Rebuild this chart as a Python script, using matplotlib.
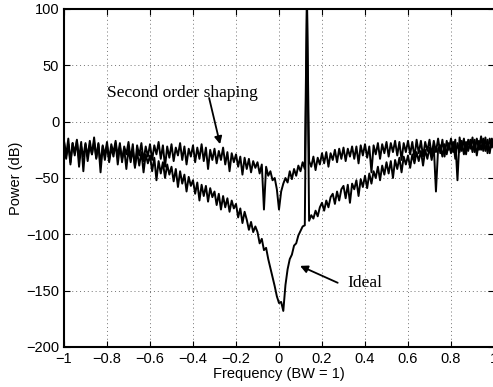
import matplotlib.pyplot as plt
import numpy as np

plt.rcParams['font.family'] = ['Liberation Sans', 'DejaVu Sans']

# power spectra, one value per 0.01 in frequency (-1 .. 1)
ideal_db = [
    -18, -33, -20, -38, -19,  -30, -17, -40, -22, -31,
    -19, -35, -21, -29, -18,  -33, -20, -45, -22, -34,
    -21, -36, -23, -31, -19,  -38, -22, -33, -24, -42,
    -24, -36, -25, -40, -27,  -39, -27, -45, -29, -37,
    -30, -44, -32, -52, -35,  -46, -36, -50, -38, -47,
    -40, -53, -42, -58, -44,  -55, -47, -62, -49, -57,
    -52, -64, -54, -70, -56,  -66, -57, -71, -59, -67,
    -62, -74, -64, -78, -66,  -76, -68, -80, -70, -77,
    -73, -85, -77, -90, -80,  -87, -96, -89, -98, -93,
    -98, -108, -104, -114, -112,  -122, -130, -138, -146, -155,
    -161, -160, -168, -145, -131,  -122, -118, -110, -108, -101,
    -97, -93, -92, 110, -88,  -83, -86, -79, -84, -76,
    -72, -79, -70, -76, -67,  -64, -73, -62, -70, -60,
    -57, -68, -56, -72, -55,  -60, -52, -66, -51, -58,
    -48, -59, -46, -55, -44,  -50, -40, -52, -39, -47,
    -36, -46, -35, -50, -34,  -42, -32, -45, -31, -38,
    -30, -41, -29, -37, -27,  -35, -26, -39, -25, -33,
    -23, -34, -22, -62, -24,  -21, -31, -20, -29, -19,
    -28, -18, -33, -19, -27,  -17, -29, -18, -26, -16,
    -27, -16, -30, -17, -25,  -15, -26, -16, -28, -15,
    -22,
]

second_order_db = [
    -17, -30, -15, -36, -19,  -28, -16, -33, -18, -44,
    -20, -31, -17, -29, -14,  -32, -19, -38, -21, -30,
    -18, -34, -20, -28, -17,  -31, -19, -36, -22, -29,
    -18, -33, -20, -41, -21,  -30, -19, -35, -22, -31,
    -20, -34, -21, -29, -18,  -33, -21, -40, -22, -32,
    -20, -35, -23, -30, -19,  -34, -22, -38, -24, -31,
    -21, -36, -23, -33, -20,  -35, -23, -42, -25, -34,
    -24, -37, -26, -34, -23,  -38, -27, -44, -28, -36,
    -29, -40, -31, -47, -32,  -42, -33, -45, -35, -41,
    -36, -46, -38, -78, -40,  -48, -44, -52, -50, -60,
    -78, -62, -55, -50, -54,  -44, -51, -42, -48, -39,
    -44, -36, -42, 110, -35,  -40, -31, -43, -32, -38,
    -28, -37, -27, -40, -28,  -34, -25, -36, -24, -33,
    -23, -35, -24, -31, -22,  -33, -22, -37, -21, -30,
    -20, -32, -22, -45, -21,  -29, -19, -33, -20, -28,
    -18, -31, -19, -27, -17,  -30, -18, -34, -19, -27,
    -17, -29, -18, -32, -16,  -28, -17, -31, -18, -26,
    -16, -30, -17, -27, -15,  -28, -16, -31, -17, -25,
    -15, -27, -16, -52, -14,  -26, -15, -29, -16, -24,
    -14, -27, -15, -25, -13,  -26, -14, -28, -15, -23,
    -16,
]

freq = np.linspace(-1, 1, len(ideal_db))
x_ticks = np.arange(-1, 1.01, 0.2)
y_ticks = np.arange(-200, 101, 50)

fig = plt.figure(figsize=(4.93, 3.87), dpi=100)
ax = fig.add_axes([64 / 493, 40 / 387, 430 / 493, 338 / 387])

ax.plot(freq, second_order_db, color='k', lw=1.4)
ax.plot(freq, ideal_db, color='k', lw=1.4)

ax.set_xlim(-1, 1)
ax.set_ylim(-200, 100)
ax.set_xticks(x_ticks)
ax.set_xticklabels(['\u22121', '\u22120.8', '\u22120.6', '\u22120.4', '\u22120.2',
                    '0', '0.2', '0.4', '0.6', '0.8', '1'])
ax.set_yticks(y_ticks)
ax.tick_params(direction='in', labelsize=10.5, length=4, top=True, right=True)
ax.grid(True, linestyle=(0, (1, 3)), color='0.45', lw=0.7)
for s in ax.spines.values():
    s.set_linewidth(1.5)

ax.set_xlabel('Frequency (BW = 1)', fontsize=10.5, labelpad=1)
ax.set_ylabel('Power (dB)', fontsize=10.5, labelpad=2)

# annotations with arrows
arrow = dict(arrowstyle='-|>', color='k', lw=1.3, mutation_scale=11, shrinkA=0, shrinkB=0)
ax.text(-0.45, 25, 'Second order shaping', ha='center', va='center',
        fontsize=12.5, family='Liberation Serif')
ax.annotate('', xy=(-0.274, -20), xytext=(-0.325, 21), arrowprops=arrow)
ax.text(0.4, -143, 'Ideal', ha='center', va='center',
        fontsize=12.5, family='Liberation Serif')
ax.annotate('', xy=(0.098, -128), xytext=(0.273, -143), arrowprops=arrow)

fig.savefig('out.png', dpi=100)
